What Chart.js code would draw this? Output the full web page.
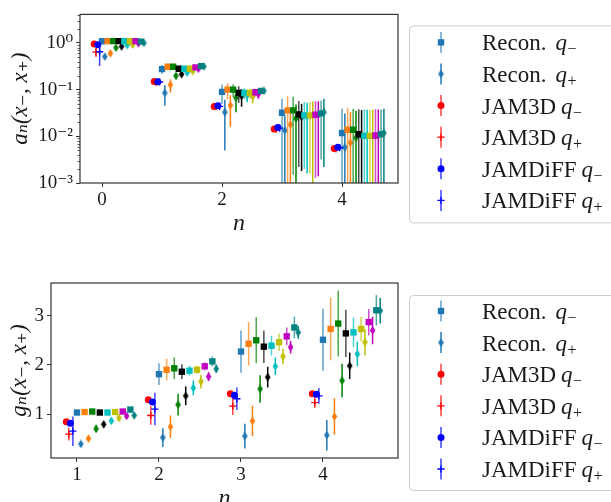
<!DOCTYPE html>
<html>
<head>
<meta charset="utf-8">
<script src="https://cdn.jsdelivr.net/npm/chart.js@4.4.1/dist/chart.umd.min.js"></script>
<style>
  html, body { margin: 0; padding: 0; background: #fff; overflow: hidden; }
  #wrap { position: relative; width: 611px; height: 502px; overflow: hidden; }
  .panel { position: absolute; left: 0; }
  #topPanel { top: 0; }
  #bottomPanel { top: 251px; }
</style>
</head>
<body>
<div id="wrap">
  <div class="panel" id="topPanel"><canvas id="topChart" width="611" height="240"></canvas></div>
  <div class="panel" id="bottomPanel"><canvas id="bottomChart" width="611" height="264"></canvas></div>
</div>
<script>
// ---- data: top panel a_n(x-, x+), n = 0..4 ----
const nTop = [0, 1, 2, 3, 4];
const topXTicks = [0, 2, 4];
const topYTicks = [1e-3, 1e-2, 1e-1, 1];
const topYTickLabels = ["10⁻³", "10⁻²", "10⁻¹", "10⁰"];

// one row per reconstruction set (blue, orange, green, black, cyan, olive, magenta, teal)
const aReconMinus = [
  [1.09, 0.276, 0.0895, 0.032, 0.0118],
  [1.10, 0.31, 0.100, 0.036, 0.0138],
  [1.10, 0.31, 0.100, 0.036, 0.0138],
  [1.10, 0.28, 0.085, 0.0296, 0.0111],
  [1.09, 0.28, 0.085, 0.0282, 0.0102],
  [1.09, 0.28, 0.085, 0.0282, 0.0102],
  [1.10, 0.30, 0.088, 0.029, 0.0104],
  [1.07, 0.32, 0.094, 0.031, 0.0111],
];
const aReconMinusErr = [
  [0.03, 0.06, 0.04, 0.032, 0.027],
  [0.03, 0.05, 0.038, 0.036, 0.027],
  [0.03, 0.04, 0.03, 0.0345, 0.025],
  [0.03, 0.035, 0.033, 0.0274, 0.027],
  [0.03, 0.03, 0.022, 0.0262, 0.0275],
  [0.03, 0.03, 0.02, 0.0266, 0.0275],
  [0.03, 0.03, 0.016, 0.0277, 0.0275],
  [0.05, 0.025, 0.012, 0.0278, 0.0265],
];
const aReconPlus = [
  [0.51, 0.085, 0.033, 0.0134, 0.0058],
  [0.60, 0.127, 0.046, 0.0179, 0.0073],
  [0.79, 0.198, 0.067, 0.0241, 0.0093],
  [0.84, 0.214, 0.073, 0.026, 0.0105],
  [0.90, 0.232, 0.076, 0.027, 0.0103],
  [0.92, 0.25, 0.071, 0.028, 0.0103],
  [0.98, 0.28, 0.080, 0.029, 0.0105],
  [1.00, 0.314, 0.094, 0.033, 0.0118],
];
const aReconPlusErr = [
  [0.06, 0.04, 0.028, 0.014, 0.025],
  [0.07, 0.04, 0.030, 0.018, 0.026],
  [0.07, 0.03, 0.034, 0.024, 0.026],
  [0.06, 0.025, 0.030, 0.0242, 0.026],
  [0.05, 0.02, 0.022, 0.0254, 0.027],
  [0.05, 0.02, 0.020, 0.028, 0.027],
  [0.05, 0.02, 0.016, 0.0276, 0.027],
  [0.04, 0.015, 0.010, 0.0308, 0.027],
];
const aJam3dMinus = [0.95, 0.149, 0.0438, 0.0144, 0.0055];
const aJam3dMinusErr = [0.02, 0.004, 0.0012, 0.0004, 0.00015];
const aJam3dPlus = [0.64, 0.143, 0.043, 0.0142, 0.0054];
const aJam3dPlusErr = [0.14, 0.006, 0.002, 0.0006, 0.0002];
const aJamdiffMinus = [0.92, 0.147, 0.045, 0.0155, 0.0058];
const aJamdiffMinusErr = [0.02, 0.004, 0.0012, 0.0004, 0.00015];
const aJamdiffPlus = [0.65, 0.146, 0.044, 0.015, 0.0057];
const aJamdiffPlusErr = [0.33, 0.006, 0.002, 0.0006, 0.0002];

// ---- data: bottom panel g_n(x-, x+), n = 1..4 ----
const nBottom = [1, 2, 3, 4];
const bottomXTicks = [1, 2, 3, 4];
const bottomYTicks = [1, 2, 3];

const gReconMinus = [
  [1.03, 1.81, 2.27, 2.51],
  [1.04, 1.90, 2.43, 2.73],
  [1.05, 1.93, 2.50, 2.84],
  [1.03, 1.86, 2.37, 2.64],
  [1.03, 1.88, 2.39, 2.66],
  [1.04, 1.90, 2.46, 2.73],
  [1.05, 1.97, 2.58, 2.87],
  [1.09, 2.07, 2.76, 3.11],
];
const gReconMinusErr = [
  [0.03, 0.22, 0.43, 0.63],
  [0.03, 0.22, 0.44, 0.64],
  [0.03, 0.22, 0.47, 0.67],
  [0.03, 0.15, 0.33, 0.48],
  [0.03, 0.10, 0.20, 0.30],
  [0.03, 0.08, 0.18, 0.25],
  [0.03, 0.08, 0.18, 0.27],
  [0.04, 0.10, 0.22, 0.31],
];
const gReconPlus = [
  [0.39, 0.52, 0.55, 0.57],
  [0.50, 0.74, 0.86, 0.95],
  [0.70, 1.19, 1.51, 1.68],
  [0.79, 1.37, 1.75, 1.98],
  [0.86, 1.53, 1.97, 2.22],
  [0.92, 1.66, 2.17, 2.46],
  [0.96, 1.76, 2.36, 2.70],
  [0.97, 1.92, 2.66, 3.10],
];
const gReconPlusErr = [
  [0.05, 0.19, 0.25, 0.31],
  [0.06, 0.23, 0.31, 0.37],
  [0.07, 0.22, 0.28, 0.34],
  [0.06, 0.19, 0.21, 0.27],
  [0.06, 0.15, 0.18, 0.25],
  [0.06, 0.14, 0.16, 0.27],
  [0.06, 0.09, 0.13, 0.28],
  [0.05, 0.08, 0.13, 0.26],
];
const gJam3dMinus = [0.84, 1.29, 1.41, 1.41];
const gJam3dMinusErr = [0.02, 0.02, 0.02, 0.02];
const gJam3dPlus = [0.59, 0.97, 1.16, 1.23];
const gJam3dPlusErr = [0.13, 0.19, 0.18, 0.11];
const gJamdiffMinus = [0.81, 1.245, 1.38, 1.40];
const gJamdiffMinusErr = [0.02, 0.02, 0.02, 0.02];
const gJamdiffPlus = [0.65, 1.10, 1.31, 1.37];
const gJamdiffPlusErr = [0.30, 0.33, 0.23, 0.16];

// ---- styling ----
const reconColors = ["#1f77b4", "#ff7f0e", "#008000", "#000000", "#00bfbf", "#bfbf00", "#bf00bf", "#008080"];
const RED = "#ff0000";
const BLUE = "#0000ff";
const RECON_STEP = 0.093;   // shift between reconstruction sets
const DIAMOND_SHIFT = 0.047; // q+ next to q-
const SERIF = "'Liberation Serif', 'DejaVu Serif', serif";
const TEXT = "#1a1a1a";
const FRAME = "#333333";

Chart.defaults.font.family = SERIF;
Chart.defaults.color = TEXT;

function withAlpha(hex, a) {
  const v = parseInt(hex.slice(1), 16);
  return `rgba(${(v >> 16) & 255},${(v >> 8) & 255},${v & 255},${a})`;
}

// matplotlib-style thin diamond marker
function thinDiamond(color) {
  const c = document.createElement("canvas");
  c.width = 7;
  c.height = 9;
  const g = c.getContext("2d");
  g.fillStyle = color;
  g.beginPath();
  g.moveTo(3.5, 0.2);
  g.lineTo(6.3, 4.5);
  g.lineTo(3.5, 8.8);
  g.lineTo(0.7, 4.5);
  g.closePath();
  g.fill();
  return c;
}

function makeDatasets(ns, sqVals, sqErrs, dmVals, dmErrs, jam) {
  const sets = [];
  reconColors.forEach((color, k) => {
    const sx = k * RECON_STEP;
    sets.push({
      label: k === 0 ? "Recon. q−" : "",
      data: ns.map((n, i) => ({ x: n + sx, y: sqVals[k][i], err: sqErrs[k][i] })),
      pointStyle: "rect",
      pointRadius: 4.5,
      backgroundColor: color,
      borderColor: color,
      borderWidth: 0,
      errColor: withAlpha(color, 0.7),
    });
    sets.push({
      label: k === 0 ? "Recon. q+" : "",
      data: ns.map((n, i) => ({ x: n + sx + DIAMOND_SHIFT, y: dmVals[k][i], err: dmErrs[k][i] })),
      pointStyle: thinDiamond(color),
      pointRadius: 4,
      backgroundColor: color,
      borderColor: color,
      borderWidth: 0,
      errColor: color,
    });
  });
  jam.forEach((j) => {
    const cross = j.style === "cross";
    sets.push({
      label: j.label,
      data: ns.map((n, i) => ({ x: n + j.shift, y: j.vals[i], err: j.errs[i] })),
      pointStyle: j.style,
      pointRadius: cross ? 3.6 : 3.5,
      backgroundColor: j.color,
      borderColor: j.color,
      borderWidth: cross ? 1.3 : 0,
      errColor: withAlpha(j.color, 0.75),
    });
  });
  return sets.map((s, i) => ({ ...s, order: -i, pointHoverRadius: s.pointRadius, showLine: false }));
}

// vertical error bars, drawn just under each dataset's markers
const errorBars = {
  id: "errorBars",
  beforeDatasetDraw(chart, args) {
    const ds = chart.data.datasets[args.index];
    const y = chart.scales.y;
    const a = chart.chartArea;
    const ctx = chart.ctx;
    ctx.save();
    ctx.beginPath();
    ctx.rect(a.left, a.top, a.width, a.height);
    ctx.clip();
    ctx.strokeStyle = ds.errColor;
    ctx.lineWidth = 1.5;
    args.meta.data.forEach((pt, i) => {
      const raw = ds.data[i];
      const hi = y.getPixelForValue(raw.y + raw.err);
      const low = raw.y - raw.err;
      const lo = y.type === "logarithmic" && low <= 0 ? a.bottom + 10 : y.getPixelForValue(low);
      ctx.beginPath();
      ctx.moveTo(pt.x, hi);
      ctx.lineTo(pt.x, lo);
      ctx.stroke();
    });
    ctx.restore();
  },
};

// axes frame + minor log ticks
const frame = {
  id: "frame",
  afterDatasetsDraw(chart) {
    const { ctx, chartArea: a } = chart;
    ctx.save();
    ctx.strokeStyle = FRAME;
    ctx.lineWidth = 1.2;
    ctx.strokeRect(a.left, a.top, a.width, a.height);
    const y = chart.scales.y;
    if (y.type === "logarithmic") {
      ctx.lineWidth = 0.8;
      for (let d = -3; d <= 0; d++) {
        for (let m = 2; m <= 9; m++) {
          const v = m * Math.pow(10, d);
          if (v > y.max) continue;
          const py = Math.round(y.getPixelForValue(v)) + 0.5;
          ctx.beginPath();
          ctx.moveTo(a.left, py);
          ctx.lineTo(a.left - 2.5, py);
          ctx.stroke();
        }
      }
    }
    ctx.restore();
  },
};

// boxed legend with errorbar handles, italic q and subscripts
const errLegend = {
  id: "errLegend",
  afterDraw(chart, args, opts) {
    const { ctx, chartArea: a } = chart;
    const items = chart.data.datasets.filter((d) => d.label);
    const bx = a.right + 11;
    const by = a.top + opts.dy;
    ctx.save();
    ctx.fillStyle = "rgba(255,255,255,0.8)";
    ctx.strokeStyle = "#cccccc";
    ctx.lineWidth = 1;
    ctx.beginPath();
    ctx.roundRect(bx + 0.5, by + 0.5, 214, opts.h, 4);
    ctx.fill();
    ctx.stroke();
    items.forEach((d, i) => {
      const cy = by + opts.first + i * 31.6;
      const mx = bx + 32;
      ctx.strokeStyle = d.errColor;
      ctx.lineWidth = 1.5;
      ctx.beginPath();
      ctx.moveTo(mx, cy - 10.5);
      ctx.lineTo(mx, cy + 10.5);
      ctx.stroke();
      ctx.fillStyle = d.backgroundColor;
      ctx.strokeStyle = d.borderColor;
      ctx.lineWidth = d.borderWidth;
      Chart.helpers.drawPoint(ctx, { pointStyle: d.pointStyle, radius: d.pointRadius, borderWidth: d.borderWidth, rotation: 0 }, mx, cy);

      const cut = d.label.lastIndexOf(" q");
      const main = d.label.slice(0, cut);
      const sub = d.label.slice(cut + 2);
      const base = cy + 8;
      let tx = bx + 73;
      ctx.fillStyle = TEXT;
      ctx.textBaseline = "alphabetic";
      ctx.textAlign = "left";
      ctx.font = `23px ${SERIF}`;
      ctx.fillText(main, tx, base);
      tx += ctx.measureText(main).width + (main.endsWith(".") ? 9 : 5);
      ctx.font = `italic 23px ${SERIF}`;
      ctx.fillText("q", tx, base);
      tx += ctx.measureText("q").width + 0.5;
      ctx.font = `16px ${SERIF}`;
      ctx.fillText(sub, tx, base + 4);
    });
    ctx.restore();
  },
};

function axisTicks(values) {
  return (scale) => {
    scale.ticks = values.map((v) => ({ value: v }));
  };
}

const tickStyle = {
  grid: { display: true, drawOnChartArea: false, drawTicks: true, tickLength: 4, tickColor: FRAME, tickWidth: 1 },
  border: { display: false },
};

function makeChart(canvasId, cfg) {
  return new Chart(document.getElementById(canvasId), {
    type: "scatter",
    data: { datasets: cfg.datasets },
    options: {
      responsive: false,
      animation: false,
      events: [],
      layout: { padding: { left: 0, right: 213, top: cfg.top, bottom: 0 } },
      plugins: {
        legend: { display: false },
        tooltip: { enabled: false },
        errLegend: cfg.legend,
      },
      scales: {
        x: {
          type: "linear",
          min: cfg.xMin,
          max: cfg.xMax,
          ...tickStyle,
          afterBuildTicks: axisTicks(cfg.xTicks),
          afterFit: (s) => { s.height = cfg.xHeight; },
          ticks: { font: { size: 19 }, padding: 2, maxRotation: 0, autoSkip: false, color: TEXT },
          title: { display: true, text: "n", font: { size: 24, style: "italic" }, padding: { top: 0, bottom: cfg.xTitlePad }, color: TEXT },
        },
        y: {
          type: cfg.yType,
          min: cfg.yMin,
          max: cfg.yMax,
          ...tickStyle,
          afterBuildTicks: axisTicks(cfg.yTicks),
          afterFit: (s) => { s.width = cfg.yWidth; },
          ticks: { font: { size: 19 }, padding: 3, autoSkip: false, color: TEXT, callback: cfg.yLabel },
          title: { display: true, text: cfg.yTitle, font: { size: 23, style: "italic" }, padding: { top: cfg.yTitlePad, bottom: 0 }, color: TEXT },
        },
      },
    },
    plugins: [errorBars, frame, errLegend],
  });
}

makeChart("topChart", {
  datasets: makeDatasets(nTop, aReconMinus, aReconMinusErr, aReconPlus, aReconPlusErr, [
    { label: "JAM3D q−", vals: aJam3dMinus, errs: aJam3dMinusErr, shift: -0.13, color: RED, style: "circle" },
    { label: "JAM3D q+", vals: aJam3dPlus, errs: aJam3dPlusErr, shift: -0.10, color: RED, style: "cross" },
    { label: "JAMDiFF q−", vals: aJamdiffMinus, errs: aJamdiffMinusErr, shift: -0.07, color: BLUE, style: "circle" },
    { label: "JAMDiFF q+", vals: aJamdiffPlus, errs: aJamdiffPlusErr, shift: -0.04, color: BLUE, style: "cross" },
  ]),
  top: 8,
  xMin: -0.367, xMax: 4.933, xTicks: topXTicks, xHeight: 57, xTitlePad: 2,
  yType: "logarithmic", yMin: 1e-3, yMax: 4.1, yTicks: topYTicks, yWidth: 80, yTitlePad: 7,
  yLabel: (v) => topYTickLabels[topYTicks.indexOf(v)],
  yTitle: "aₙ(x₋, x₊)",
  legend: { dy: 11, h: 197, first: 17 },
});

makeChart("bottomChart", {
  datasets: makeDatasets(nBottom, gReconMinus, gReconMinusErr, gReconPlus, gReconPlusErr, [
    { label: "JAM3D q−", vals: gJam3dMinus, errs: gJam3dMinusErr, shift: -0.13, color: RED, style: "circle" },
    { label: "JAM3D q+", vals: gJam3dPlus, errs: gJam3dPlusErr, shift: -0.10, color: RED, style: "cross" },
    { label: "JAMDiFF q−", vals: gJamdiffMinus, errs: gJamdiffMinusErr, shift: -0.08, color: BLUE, style: "circle" },
    { label: "JAMDiFF q+", vals: gJamdiffPlus, errs: gJamdiffPlusErr, shift: -0.05, color: BLUE, style: "cross" },
  ]),
  top: 32,
  xMin: 0.683, xMax: 4.915, xTicks: bottomXTicks, xHeight: 57, xTitlePad: 2,
  yType: "linear", yMin: 0.105, yMax: 3.665, yTicks: bottomYTicks, yWidth: 51, yTitlePad: 6,
  yLabel: (v) => String(v),
  yTitle: "gₙ(x₋, x₊)",
  legend: { dy: 12, h: 195, first: 16 },
});
</script>
</body>
</html>
